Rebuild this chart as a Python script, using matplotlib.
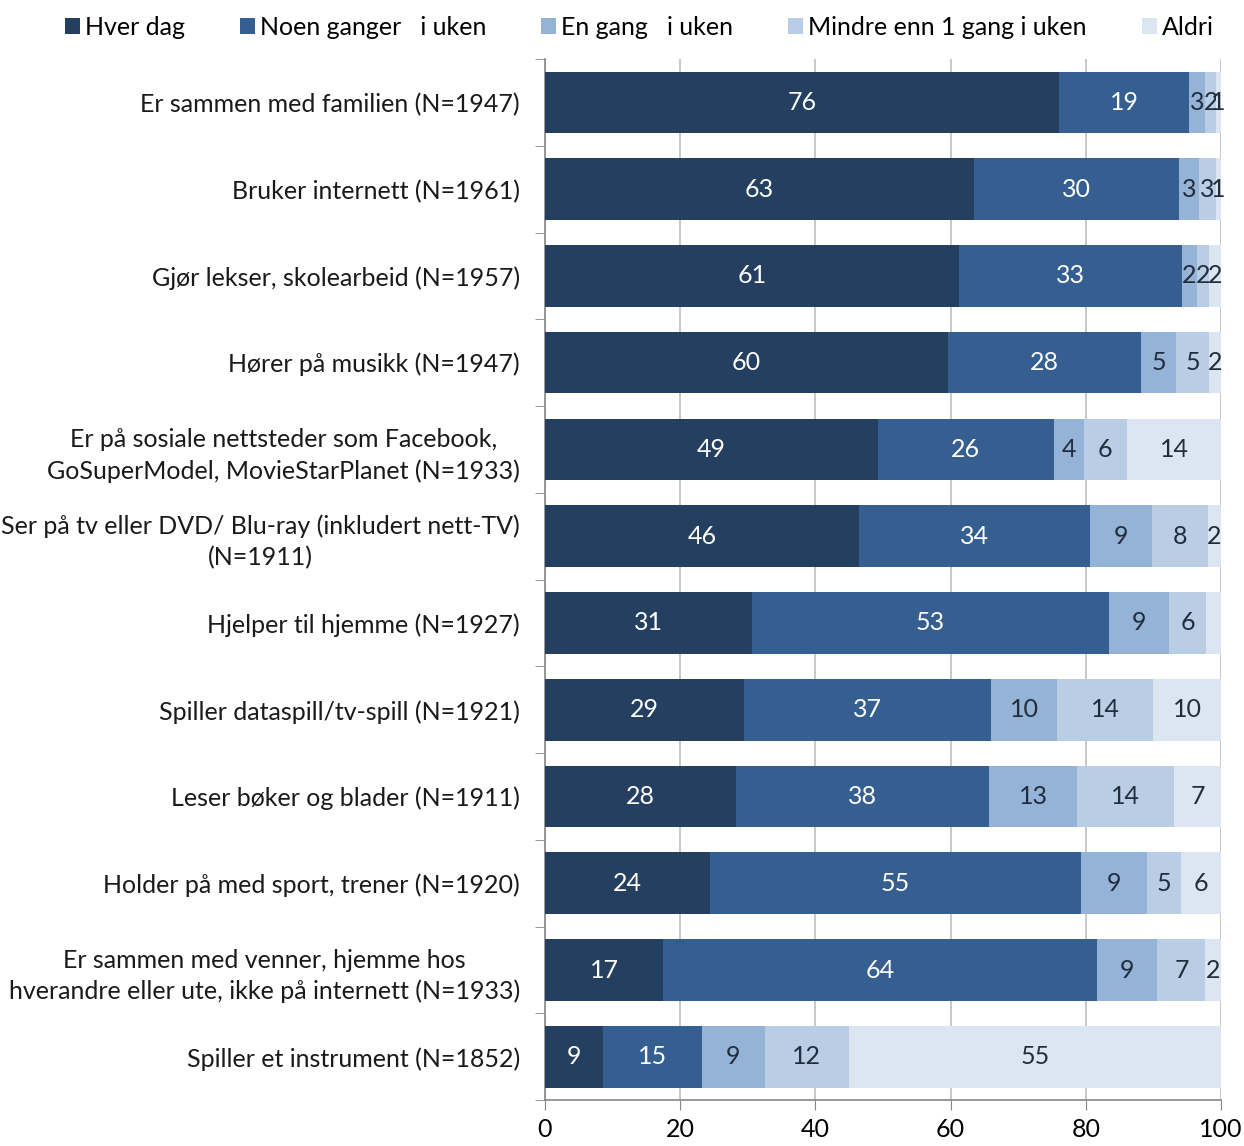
import numpy as np
import matplotlib
matplotlib.use("Agg")
import matplotlib.pyplot as plt

plt.rcParams['font.family'] = ['Lato', 'DejaVu Sans']

activities = [
    "Er sammen med familien (N=1947)",
    "Bruker internett (N=1961)",
    "Gjør lekser, skolearbeid (N=1957)",
    "Hører på musikk (N=1947)",
    "Er på sosiale nettsteder som Facebook,\nGoSuperModel, MovieStarPlanet (N=1933)",
    "Ser på tv eller DVD/ Blu-ray (inkludert nett-TV)\n(N=1911)",
    "Hjelper til hjemme (N=1927)",
    "Spiller dataspill/tv-spill (N=1921)",
    "Leser bøker og blader (N=1911)",
    "Holder på med sport, trener (N=1920)",
    "Er sammen med venner, hjemme hos\nhverandre eller ute, ikke på internett (N=1933)",
    "Spiller et instrument (N=1852)",
]

categories = ["Hver dag", "Noen ganger   i uken", "En gang   i uken",
              "Mindre enn 1 gang i uken", "Aldri"]

# percent shares
hver_dag = [76.1, 63.5, 61.2, 59.6, 49.2, 46.5, 30.6, 29.5, 28.2, 24.4, 17.5, 8.6]
noen_ganger = [19.2, 30.3, 33.0, 28.5, 26.1, 34.1, 52.9, 36.5, 37.5, 54.9, 64.1, 14.6]
en_gang = [2.4, 2.9, 2.2, 5.3, 4.4, 9.2, 8.8, 9.8, 13.0, 9.7, 9.0, 9.3]
mindre = [1.6, 2.6, 1.9, 4.8, 6.4, 8.3, 5.5, 14.2, 14.4, 5.1, 7.1, 12.5]
aldri = [0.7, 0.7, 1.7, 1.8, 13.9, 1.9, 2.2, 10.0, 6.9, 5.9, 2.3, 55.0]

# data labels as printed on the chart ('' = no label)
lab_hver = ["76", "63", "61", "60", "49", "46", "31", "29", "28", "24", "17", "9"]
lab_noen = ["19", "30", "33", "28", "26", "34", "53", "37", "38", "55", "64", "15"]
lab_en = ["3", "3", "2", "5", "4", "9", "9", "10", "13", "9", "9", "9"]
lab_mindre = ["2", "3", "2", "5", "6", "8", "6", "14", "14", "5", "7", "12"]
lab_aldri = ["1", "1", "2", "2", "14", "2", "", "10", "7", "6", "2", "55"]

colors = ["#253F60", "#355F91", "#95B3D7", "#B9CDE5", "#DCE6F2"]
text_colors = ["white", "white", "#1F2D3D", "#1F2D3D", "#1F2D3D"]

series = [hver_dag, noen_ganger, en_gang, mindre, aldri]
labels = [lab_hver, lab_noen, lab_en, lab_mindre, lab_aldri]

fig = plt.figure(figsize=(12.44, 11.46), dpi=100)
ax = fig.add_axes([0.438, 0.04, 0.5435, 0.9085])

y = np.arange(len(activities))
left = np.zeros(len(activities))
handles = []
for vals, labs, col, tcol, name in zip(series, labels, colors, text_colors, categories):
    bars = ax.barh(y, vals, left=left, height=0.71, color=col, label=name, zorder=3)
    ax.bar_label(bars, labels=labs, label_type='center', color=tcol, fontsize=18)
    handles.append(bars)
    left += np.array(vals)

ax.set_xlim(0, 100)
ax.set_ylim(len(activities) - 0.5, -0.5)
ax.set_xticks(np.arange(0, 101, 20))
ax.tick_params(axis='x', labelsize=18, length=7, color='#868686', pad=6, labelcolor='black')
ax.set_yticks(y)
ax.set_yticklabels(activities, fontsize=18, color='#1a1a1a')
for t in ax.get_yticklabels():
    t.set_multialignment('center')
    t.set_linespacing(1.4)
ax.set_yticks(np.arange(-0.5, len(activities), 1.0), minor=True)
ax.tick_params(axis='y', which='major', length=0, pad=18)
ax.tick_params(axis='y', which='minor', length=7, color='#868686')

ax.grid(axis='x', color='#BFBFBF', linewidth=1.2, zorder=0)
for s in ['top', 'right']:
    ax.spines[s].set_visible(False)
for s in ['left', 'bottom']:
    ax.spines[s].set_color('#868686')
    ax.spines[s].set_linewidth(1.2)

fig.legend(handles=handles, labels=categories, loc='center', bbox_to_anchor=(0.514, 0.976),
           ncol=5, frameon=False, fontsize=18, handlelength=0.6, handleheight=0.6,
           handletextpad=0.2, columnspacing=2.2)

fig.savefig("out.png", dpi=100)
